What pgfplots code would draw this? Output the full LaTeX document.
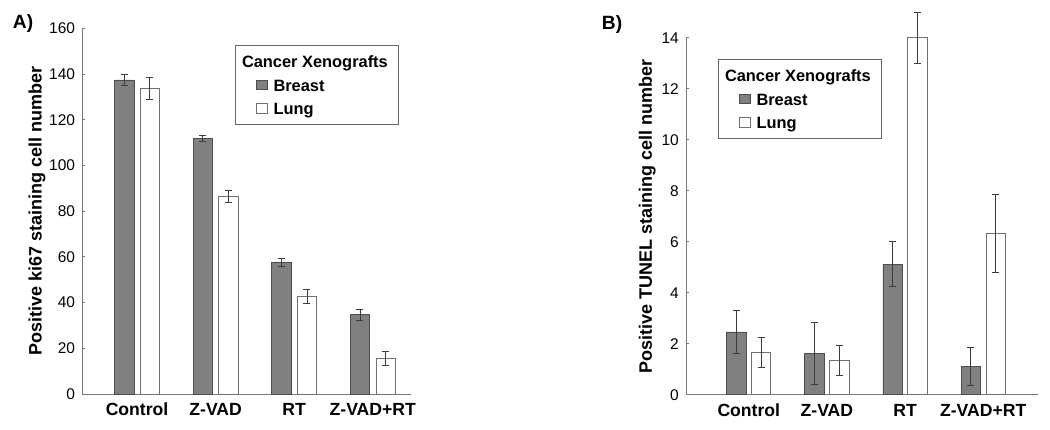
\documentclass[border=0pt]{standalone}
\usepackage{fontspec}
\setmainfont{Liberation Sans}
\usepackage{pgfplots}
\pgfplotsset{compat=1.18}
\definecolor{breastfill}{HTML}{808080}
\definecolor{breastdraw}{HTML}{4D4D4D}
\definecolor{lungdraw}{HTML}{707070}
\definecolor{axisgray}{HTML}{7A7A7A}
\definecolor{errgray}{HTML}{3C3C3C}
\definecolor{legdraw}{HTML}{666666}

\pgfplotsset{
 panel/.style={
  scale only axis, enlargelimits=false, clip=false,
  axis x line*=bottom, axis y line*=left,
  axis line style={-, draw=axisgray, line width=0.9pt},
  xtick={0,1,2,3}, xticklabels={Control,Z-VAD,RT,Z-VAD+RT},
  major x tick style={draw=none},
  major y tick style={draw=axisgray, line width=0.8pt},
  major tick length=3pt, tick align=inside,
  /pgf/number format/assume math mode=true,
  yticklabel style={font=\fontsize{15.5}{18}\selectfont, inner xsep=0pt, xshift=-7pt},
  xticklabel style={font=\bfseries\fontsize{17.6}{21}\selectfont, inner ysep=0pt, yshift=-9pt, anchor=north},
  ylabel style={font=\bfseries\fontsize{18}{21}\selectfont, inner sep=0pt, anchor=north},
  legend cell align=left,
  legend image code/.code={\draw[##1] (0pt,-4.5pt) rectangle (11.5pt,5pt);},
  legend style={anchor=north west, draw=legdraw, line width=0.8pt, fill=white,
    inner xsep=20pt, inner ysep=6.35pt, row sep=3.3pt, column sep=3.5pt,
    font=\bfseries\fontsize{16.4}{19}\selectfont,
    nodes={inner sep=2pt, text height=14pt, text depth=2pt}},
 },
 errs/.style={
  /pgfplots/error bars/y dir=both, /pgfplots/error bars/y explicit,
  /pgfplots/error bars/error mark=-,
  /pgfplots/error bars/error bar style={line width=0.8pt, draw=errgray},
  /pgfplots/error bars/error mark options={rotate=90, mark size=3.5pt, line width=0.8pt, draw=errgray}},
 bbar/.style={ybar, bar width=19.3pt, bar shift=0pt, fill=breastfill, draw=breastdraw, line width=0.8pt, forget plot, errs},
 lbar/.style={ybar, bar width=19.3pt, bar shift=0pt, fill=white, draw=lungdraw, line width=0.8pt, forget plot, errs},
}

\begin{document}
\begin{tikzpicture}
\useasboundingbox (0,0) rectangle (1050pt,430pt);

% Panel A  (breast bars at category - 0.163, lung at category + 0.163)
\begin{axis}[panel, at={(82.3pt,36pt)}, anchor=south west,
  width=328.7pt, height=365.7pt,
  xmin=-0.697, xmax=3.487, ymin=0, ymax=160,
  ytick={0,20,40,60,80,100,120,140,160},
  ylabel={Positive ki67 staining cell number},
  ylabel style={at={(axis description cs:-0.1643,0.5)}},
  legend style={at={(0.4655,0.954)}}]
\addplot[bbar] coordinates {
 (-0.163,137.4) +- (0,2.5) (0.837,111.7) +- (0,1.3) (1.837,57.7) +- (0,1.75) (2.837,34.7) +- (0,2.5)};
\addplot[lbar] coordinates {
 (0.163,133.8) +- (0,4.9) (1.163,86.3) +- (0,2.6) (2.163,42.7) +- (0,2.9) (3.163,15.7) +- (0,3.1)};
\addlegendimage{empty legend}
\addlegendentry{\hspace*{-31.5pt}Cancer Xenografts\hspace*{-11.3pt}}
\addlegendimage{fill=breastfill, draw=breastdraw, line width=0.8pt}
\addlegendentry{Breast}
\addlegendimage{fill=white, draw=lungdraw, line width=0.8pt}
\addlegendentry{Lung}
\end{axis}

% Panel B  (breast bars at category - 0.159, lung at category + 0.159)
\begin{axis}[panel, at={(686pt,35.3pt)}, anchor=south west,
  width=352pt, height=357pt,
  xmin=-0.804, xmax=3.702, ymin=0, ymax=14,
  ytick={0,2,4,6,8,10,12,14},
  ylabel={Positive TUNEL staining cell number},
  ylabel style={at={(axis description cs:-0.1344,0.5)}},
  legend style={at={(0.0918,0.940)}}]
\addplot[bbar] coordinates {
 (-0.159,2.46) +- (0,0.84) (0.841,1.63) +- (0,1.21) (1.841,5.12) +- (0,0.88) (2.841,1.11) +- (0,0.76)};
\addplot[lbar] coordinates {
 (0.159,1.66) +- (0,0.59) (1.159,1.33) +- (0,0.59) (2.159,14.0) +- (0,0.99) (3.159,6.34) +- (0,1.53)};
\addlegendimage{empty legend}
\addlegendentry{\hspace*{-31.5pt}Cancer Xenografts\hspace*{-11.3pt}}
\addlegendimage{fill=breastfill, draw=breastdraw, line width=0.8pt}
\addlegendentry{Breast}
\addlegendimage{fill=white, draw=lungdraw, line width=0.8pt}
\addlegendentry{Lung}
\end{axis}

\node[anchor=base west, inner sep=0pt, font=\bfseries\fontsize{19.2}{22}\selectfont] at (12.7pt,401.3pt) {A)};
\node[anchor=base west, inner sep=0pt, font=\bfseries\fontsize{19.2}{22}\selectfont] at (601.7pt,400pt) {B)};
\end{tikzpicture}
\end{document}
